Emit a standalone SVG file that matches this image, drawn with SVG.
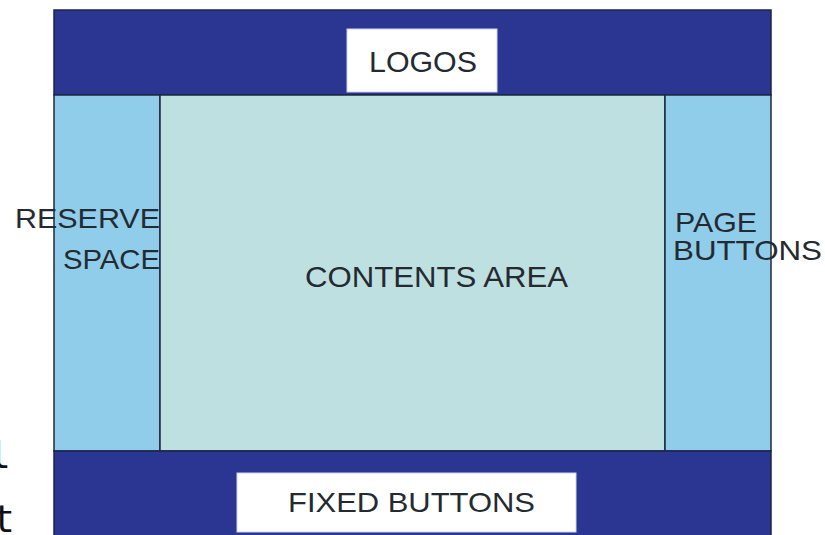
<svg xmlns="http://www.w3.org/2000/svg" width="825" height="535" viewBox="0 0 825 535">
<style>
.band{fill:#2b3592;stroke:#1c2448;stroke-width:1.5}
.side{fill:#8fcdea;stroke:#1c2a40;stroke-width:1.5}
.main{fill:#bfe0e0;stroke:#1c2a40;stroke-width:1.5}
.box{fill:#ffffff;stroke:#cfd6ea;stroke-width:1}
.lbl{font-family:"Liberation Sans",Arial,sans-serif;fill:#252a30}
.mono{font-family:"DejaVu Sans Mono",monospace}
</style>
<rect width="825" height="535" fill="#ffffff"/>
<g id="top-band">
<rect class="band" x="54" y="10" width="717" height="85"/>
</g>
<g id="logos">
<rect class="box" x="347" y="29" width="150" height="63"/>
<text class="lbl" x="369" y="72" font-size="30" textLength="108" lengthAdjust="spacingAndGlyphs">LOGOS</text>
</g>
<g id="reserve-space">
<rect class="side" x="54" y="95" width="106" height="356"/>
<text class="lbl" x="15" y="228" font-size="28" textLength="145" lengthAdjust="spacingAndGlyphs">RESERVE</text>
<text class="lbl" x="63" y="269" font-size="28" textLength="97" lengthAdjust="spacingAndGlyphs">SPACE</text>
</g>
<g id="contents-area">
<rect class="main" x="160" y="95" width="505" height="356"/>
<text class="lbl" x="305" y="287" font-size="30" textLength="263" lengthAdjust="spacingAndGlyphs">CONTENTS AREA</text>
</g>
<g id="page-buttons">
<rect class="side" x="665" y="95" width="106" height="356"/>
<text class="lbl" x="675" y="232" font-size="28" textLength="82" lengthAdjust="spacingAndGlyphs">PAGE</text>
<text class="lbl" x="673" y="260" font-size="28" textLength="149" lengthAdjust="spacingAndGlyphs">BUTTONS</text>
</g>
<g id="bottom-band">
<rect class="band" x="54" y="451" width="717" height="90"/>
</g>
<g id="fixed-buttons">
<rect class="box" x="237" y="473" width="339" height="59"/>
<text class="lbl" x="288" y="512" font-size="28" textLength="247" lengthAdjust="spacingAndGlyphs">FIXED BUTTONS</text>
</g>
<g id="edge-text">
<text class="mono" x="-12" y="468" font-size="38" fill="#111111">l</text>
<text class="mono" x="-8" y="532" font-size="38" fill="#111111">t</text>
</g>
<g id="connectors"></g>
</svg>
